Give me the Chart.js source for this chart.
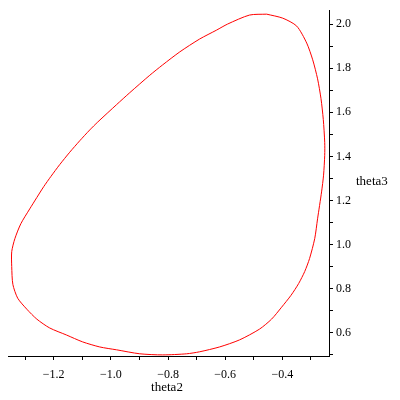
<!DOCTYPE html>
<html><head><meta charset="utf-8">
<script src="https://cdn.jsdelivr.net/npm/chart.js@4/dist/chart.umd.min.js"></script>
<style>html,body{margin:0;padding:0;background:#fff}#wrap{width:400px;height:400px}</style>
</head><body><div id="wrap"><canvas id="c" width="400" height="400"></canvas></div>
<script>
// Closed orbit, theta2 (x) vs theta3 (y)
const theta2 = [-0.455,-0.399,-0.350,-0.315,-0.294,-0.277,-0.265,-0.257,-0.252,-0.252,-0.256,-0.263,-0.277,-0.287,-0.305,-0.322,-0.343,-0.370,-0.403,-0.438,-0.480,-0.550,-0.620,-0.690,-0.735,-0.819,-0.899,-0.980,-1.039,-1.099,-1.155,-1.214,-1.259,-1.294,-1.326,-1.343,-1.347,-1.347,-1.336,-1.315,-1.284,-1.259,-1.235,-1.210,-1.179,-1.144,-1.109,-1.074,-1.046,-0.980,-0.934,-0.864,-0.819,-0.759,-0.690,-0.630,-0.592,-0.515,-0.455];
const theta3 = [2.045,2.027,1.991,1.914,1.838,1.752,1.662,1.568,1.464,1.405,1.315,1.239,1.117,1.027,0.937,0.878,0.824,0.770,0.716,0.662,0.617,0.568,0.536,0.514,0.505,0.500,0.505,0.523,0.536,0.559,0.590,0.622,0.662,0.707,0.757,0.820,0.901,0.968,1.027,1.095,1.162,1.214,1.263,1.309,1.363,1.419,1.471,1.520,1.556,1.635,1.689,1.768,1.815,1.874,1.932,1.973,2.000,2.041,2.045];

const xTickValues = [-1.3,-1.2,-1.1,-1.0,-0.9,-0.8,-0.7,-0.6,-0.5,-0.4,-0.3];
const xTickLabels = ['','\u22121.2','','\u22121.0','','\u22120.8','','\u22120.6','','\u22120.4',''];
const yTickValues = [0.5,0.6,0.7,0.8,0.9,1.0,1.1,1.2,1.3,1.4,1.5,1.6,1.7,1.8,1.9,2.0];
const yTickLabels = ['','0.6','','0.8','','1.0','','1.2','','1.4','','1.6','','1.8','','2.0'];
const xTitle = 'theta2';
const yTitle = 'theta3';

const points = theta2.map((x,i)=>({x:x, y:theta3[i]}));
const FONT = '"Liberation Serif", "Times New Roman", serif';

const titlePlugin = {
  id: 'axisTitles',
  afterDraw(chart){
    const ctx = chart.ctx;
    ctx.save();
    ctx.fillStyle = '#000';
    ctx.font = '13px ' + FONT;
    ctx.textBaseline = 'middle';
    ctx.textAlign = 'center';
    ctx.fillText(xTitle, 167, 388);
    ctx.textAlign = 'left';
    ctx.fillText(yTitle, 356, 182);
    ctx.restore();
  }
};

new Chart(document.getElementById('c'), {
  type: 'scatter',
  data: { datasets: [{
    data: points,
    showLine: true,
    borderColor: '#ff0000',
    borderWidth: 1,
    pointRadius: 0,
    tension: 0.25,
    fill: false
  }]},
  options: {
    responsive: false,
    animation: false,
    events: [],
    layout: { padding: { left: 8, top: 7, right: 0, bottom: 0 } },
    plugins: { legend: { display: false }, tooltip: { enabled: false } },
    scales: {
      x: {
        type: 'linear', position: 'bottom',
        min: -1.36, max: -0.237,
        afterBuildTicks: s => { s.ticks = xTickValues.map(v => ({ value: v })); },
        afterFit: s => { s.height = 44; },
        grid: { drawOnChartArea: false, drawTicks: true, tickLength: 4, color: '#000' },
        border: { color: '#000', width: 1 },
        ticks: {
          autoSkip: false, maxRotation: 0, padding: 8, color: '#000',
          font: { family: FONT, size: 12 },
          callback: (v, i) => xTickLabels[i]
        }
      },
      y: {
        type: 'linear', position: 'right',
        min: 0.495, max: 2.063,
        afterBuildTicks: s => { s.ticks = yTickValues.map(v => ({ value: v })); },
        afterFit: s => { s.width = 71; },
        grid: { drawOnChartArea: false, drawTicks: true, tickLength: 4, color: '#000' },
        border: { color: '#000', width: 1 },
        ticks: {
          autoSkip: false, padding: 3, color: '#000', crossAlign: 'near',
          font: { family: FONT, size: 12 },
          callback: (v, i) => yTickLabels[i]
        }
      }
    }
  },
  plugins: [titlePlugin]
});
</script>
</body></html>
